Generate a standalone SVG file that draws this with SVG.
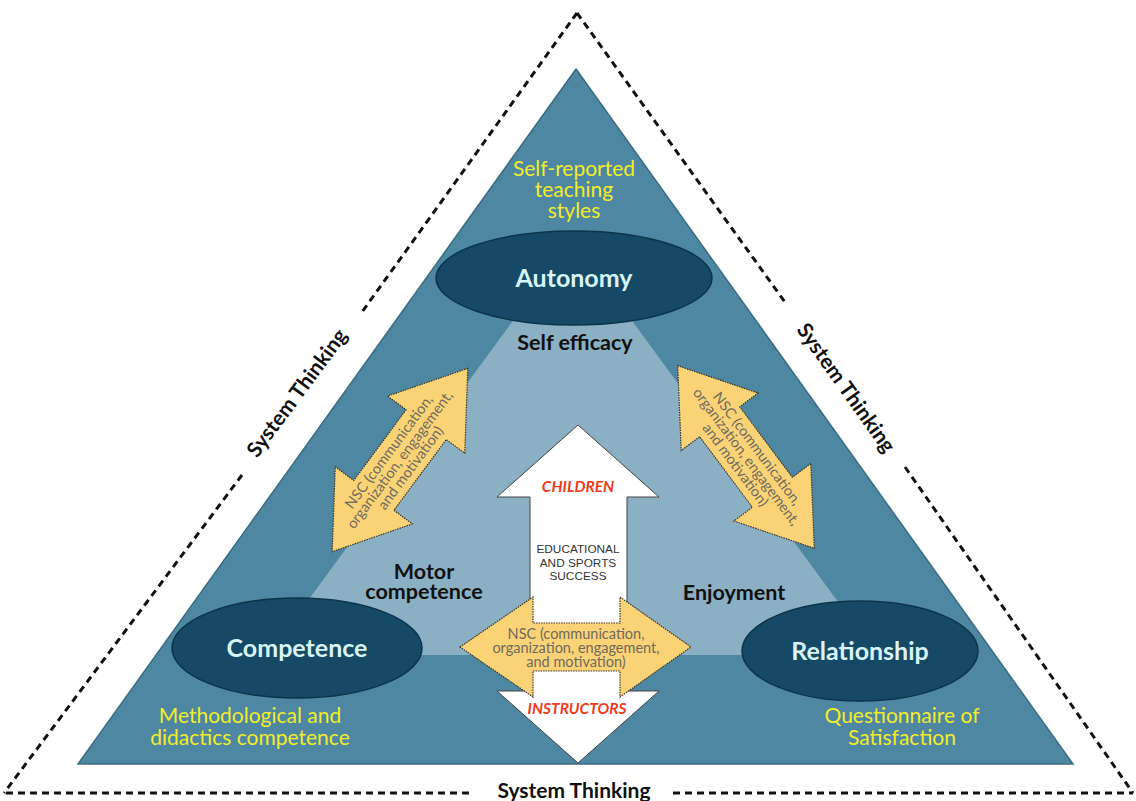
<svg xmlns="http://www.w3.org/2000/svg" width="1136" height="801" viewBox="0 0 1136 801">
<style>
.dash{fill:none;stroke:#111;stroke-width:3;stroke-dasharray:7 5}
.st{font-family:Lato,"Open Sans",sans-serif;font-weight:bold;font-size:21px;fill:#111;text-anchor:middle}
.ell{fill:#154966;stroke:#0c344a;stroke-width:1.5}
.et{font-family:Lato,"Open Sans",sans-serif;font-weight:bold;font-size:25px;fill:#d9f4f7;text-anchor:middle}
.yt{font-family:Lato,"Open Sans",sans-serif;font-size:21px;fill:#f3ec2a;text-anchor:middle}
.bt{font-family:Lato,"Open Sans",sans-serif;font-weight:bold;font-size:21.5px;fill:#111;text-anchor:middle}
.ya{fill:#fbd377;stroke:#3a3428;stroke-width:1.2;stroke-dasharray:1.5 1}
.nsc{font-family:Lato,"Open Sans",sans-serif;font-size:14.5px;fill:#6f6a5c;text-anchor:middle}
.red{font-family:Lato,"Open Sans",sans-serif;font-weight:bold;font-style:italic;font-size:15.5px;fill:#f03a1c;text-anchor:middle}
.sm{font-family:"Liberation Sans",Arial,sans-serif;font-size:11.8px;fill:#333;text-anchor:middle}
</style>
<rect width="1136" height="801" fill="#fff"/>
<g id="system-thinking-frame">
<path class="dash" d="M577 13 L362 312 M242 475 L4 793"/>
<path class="dash" d="M577 13 L787 305 M905 467 L1133 793"/>
<path class="dash" d="M6 793 L473 793 M673 793 L1133 793"/>
<text class="st" transform="translate(297 393) rotate(-53.5)" dy="7">System Thinking</text>
<text class="st" transform="translate(846 388) rotate(54.5)" dy="7">System Thinking</text>
<text class="st" x="574" y="798">System Thinking</text>
</g>
<g id="pyramid">
<polygon points="576,69 1073,764 78,764" fill="#4e87a1" stroke="#3a6c84" stroke-width="1.5"/>
<polygon points="515,318 630,318 877,655 268,655" fill="#8bafc3"/>
</g>
<g id="connectors">
<g id="arrow-left" transform="translate(400 460) rotate(-53.5)">
<polygon class="ya" points="114,0 44,-48 44,-25 -44,-25 -44,-48 -114,0 -44,48 -44,25 44,25 44,48"/>
<text class="nsc" y="-9">NSC (communication,</text>
<text class="nsc" y="4.5">organization, engagement,</text>
<text class="nsc" y="18">and motivation)</text>
</g>
<g id="arrow-right" transform="translate(746 457) rotate(53.2)">
<polygon class="ya" points="114,0 44,-48 44,-25 -44,-25 -44,-48 -114,0 -44,48 -44,25 44,25 44,48"/>
<text class="nsc" y="-9">NSC (communication,</text>
<text class="nsc" y="4.5">organization, engagement,</text>
<text class="nsc" y="18">and motivation)</text>
</g>
<g id="arrow-vertical">
<polygon points="578,425 659,497 627,497 627,691 659,691 578,763 497,691 530,691 530,497 497,497" fill="#fff" stroke="#444" stroke-width="1"/>
<text class="red" x="578" y="492">CHILDREN</text>
<text class="sm" x="578" y="553">EDUCATIONAL</text>
<text class="sm" x="578" y="566.5">AND SPORTS</text>
<text class="sm" x="578" y="580">SUCCESS</text>
<text class="red" x="577" y="714" font-size="17">INSTRUCTORS</text>
</g>
<g id="arrow-horizontal">
<polygon class="ya" points="460,647 533,597 533,623 620,623 620,597 691,647 620,697 620,671 533,671 533,697"/>
<text class="nsc" x="576" y="638.5">NSC (communication,</text>
<text class="nsc" x="576" y="652.5">organization, engagement,</text>
<text class="nsc" x="576" y="666.5">and motivation)</text>
</g>
</g>
<g id="autonomy">
<ellipse class="ell" cx="574" cy="278" rx="138" ry="47"/>
<text class="et" x="574" y="287">Autonomy</text>
</g>
<g id="competence">
<ellipse class="ell" cx="297" cy="648" rx="125" ry="50"/>
<text class="et" x="297" y="657">Competence</text>
</g>
<g id="relationship">
<ellipse class="ell" cx="860" cy="651" rx="118" ry="50"/>
<text class="et" x="860" y="660">Relationship</text>
</g>
<g id="label-teaching-styles">
<text class="yt" x="574" y="176">Self-reported</text>
<text class="yt" x="574" y="197">teaching</text>
<text class="yt" x="574" y="217.5">styles</text>
</g>
<g id="label-self-efficacy"><text class="bt" x="575" y="350">Self efficacy</text></g>
<g id="label-motor"><text class="bt" x="424" y="578.5">Motor</text><text class="bt" x="424" y="599">competence</text></g>
<g id="label-enjoyment"><text class="bt" x="734" y="600">Enjoyment</text></g>
<g id="label-methodological">
<text class="yt" x="250" y="723">Methodological and</text>
<text class="yt" x="250" y="745">didactics competence</text>
</g>
<g id="label-questionnaire">
<text class="yt" x="902" y="723">Questionnaire of</text>
<text class="yt" x="902" y="745">Satisfaction</text>
</g>
</svg>
